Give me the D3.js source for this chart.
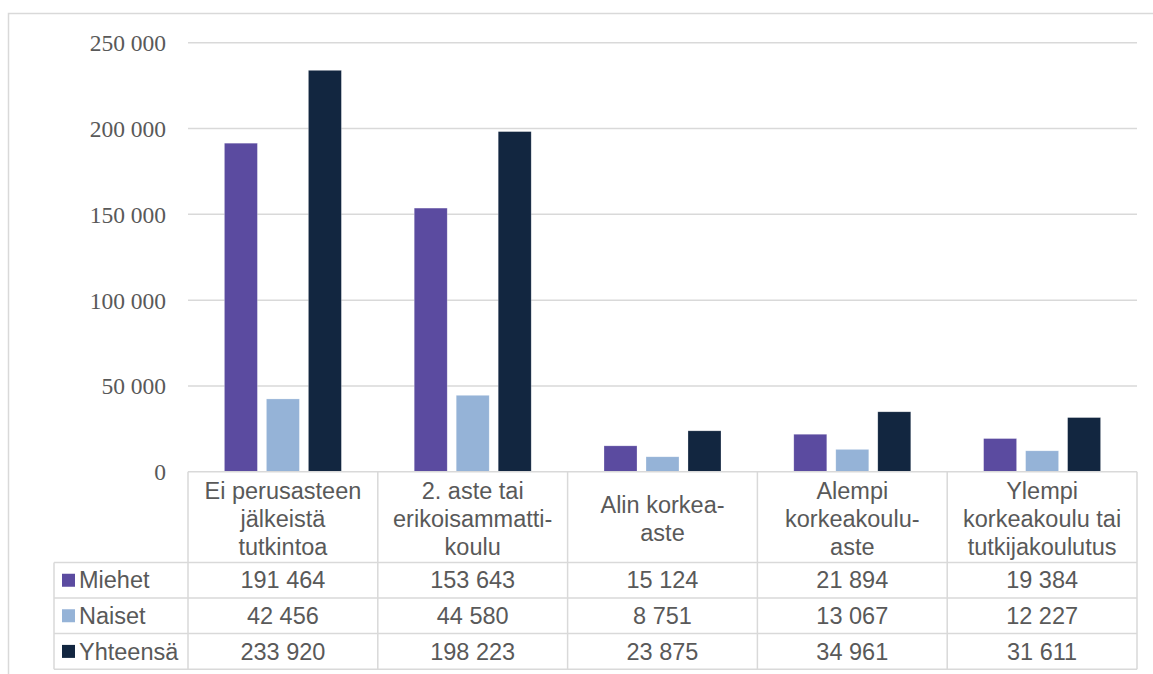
<!DOCTYPE html>
<html>
<head>
<meta charset="utf-8">
<script src="https://cdn.jsdelivr.net/npm/d3@7"></script>
<style>
  html, body { margin: 0; padding: 0; background: #fff; }
  svg { display: block; }
</style>
</head>
<body>
<svg id="chart" width="1153" height="674"></svg>
<script>
const categories = [
  ["Ei perusasteen", "jälkeistä", "tutkintoa"],
  ["2. aste tai", "erikoisammatti-", "koulu"],
  ["Alin korkea-", "aste"],
  ["Alempi", "korkeakoulu-", "aste"],
  ["Ylempi", "korkeakoulu tai", "tutkijakoulutus"]
];
const seriesNames = ["Miehet", "Naiset", "Yhteensä"];
const miehet = [191464, 153643, 15124, 21894, 19384];
const naiset = [42456, 44580, 8751, 13067, 12227];
const yhteensa = [233920, 198223, 23875, 34961, 31611];
const seriesColors = ["#5B4BA0", "#95B3D7", "#122640"];
const yTicks = [0, 50000, 100000, 150000, 200000, 250000];

const seriesValues = [miehet, naiset, yhteensa];
const catKeys = categories.map((c, i) => i);

const svg = d3.select("#chart");
const textColor = "#595959";
const lineColor = "#d9d9d9";
const fmt = v => d3.format(",")(v).replace(/,/g, " ");

const plotLeft = 188, plotRight = 1137, plotTop = 42.7, plotBottom = 471.8;
const tableLeft = 54;
const rowEdges = [471.8, 562.5, 598, 633.5, 669.3];

// outer frame
svg.append("rect")
  .attr("x", 8.5).attr("y", 13.5)
  .attr("width", 1160).attr("height", 700)
  .attr("fill", "none").attr("stroke", lineColor).attr("stroke-width", 1.5);

const x0 = d3.scaleBand().domain(catKeys).range([plotLeft, plotRight]).padding(0);
const groupW = 117;
const x1 = d3.scaleBand().domain(seriesNames)
  .range([(x0.bandwidth() - groupW) / 2, (x0.bandwidth() + groupW) / 2])
  .paddingInner(0.214).paddingOuter(0);
const y = d3.scaleLinear().domain([0, 250000]).range([plotBottom, plotTop]);

// gridlines
svg.append("g").selectAll("line").data(yTicks.filter(t => t > 0)).join("line")
  .attr("x1", plotLeft).attr("x2", plotRight)
  .attr("y1", d => y(d)).attr("y2", d => y(d))
  .attr("stroke", lineColor).attr("stroke-width", 1.5);

// y axis labels
const yAxis = d3.axisLeft(y).tickValues(yTicks).tickFormat(fmt).tickSize(0).tickPadding(0);
const yg = svg.append("g").attr("transform", `translate(166,0)`).call(yAxis);
yg.select(".domain").remove();
yg.selectAll("text")
  .attr("fill", textColor)
  .style("font-family", "'Liberation Serif', 'Times New Roman', serif")
  .style("font-size", "23.5px")
  .attr("dy", "0.34em");

// bars
const groups = svg.append("g").selectAll("g").data(catKeys).join("g")
  .attr("transform", d => `translate(${x0(d)},0)`);
groups.selectAll("rect")
  .data(ci => seriesNames.map((s, si) => ({ s, si, v: seriesValues[si][ci] })))
  .join("rect")
  .attr("x", d => x1(d.s))
  .attr("width", x1.bandwidth())
  .attr("y", d => y(d.v))
  .attr("height", d => plotBottom - y(d.v))
  .attr("fill", d => seriesColors[d.si])
  .attr("stroke", "rgba(255,255,255,0.45)")
  .attr("stroke-width", 0.6);

// table lines
const tbl = svg.append("g").attr("stroke", lineColor).attr("stroke-width", 1.5);
// horizontal lines
tbl.append("line").attr("x1", plotLeft).attr("x2", plotRight)
  .attr("y1", rowEdges[0]).attr("y2", rowEdges[0]);
for (let i = 1; i < rowEdges.length; i++) {
  tbl.append("line").attr("x1", tableLeft).attr("x2", plotRight)
    .attr("y1", rowEdges[i]).attr("y2", rowEdges[i]);
}
// vertical lines
tbl.append("line").attr("x1", tableLeft).attr("x2", tableLeft)
  .attr("y1", rowEdges[1]).attr("y2", rowEdges[4]);
const vx = catKeys.map(k => x0(k)).concat([plotRight]);
vx.forEach(xv => {
  tbl.append("line").attr("x1", xv).attr("x2", xv)
    .attr("y1", rowEdges[0]).attr("y2", rowEdges[4]);
});

const sans = "'Liberation Sans', Arial, sans-serif";
const fs = "23.5px";
const lineH = 28.3;

// header category labels
const hc = (rowEdges[0] + rowEdges[1]) / 2 + 1.5;
catKeys.forEach(k => {
  const lines = categories[k];
  const cx = x0(k) + x0.bandwidth() / 2;
  svg.append("text")
    .attr("x", cx).attr("text-anchor", "middle")
    .attr("fill", textColor).style("font-family", sans).style("font-size", fs)
    .selectAll("tspan").data(lines).join("tspan")
    .attr("x", cx)
    .attr("y", (d, i) => hc + (i - (lines.length - 1) / 2) * lineH)
    .attr("dy", "0.35em")
    .text(d => d);
});

// data rows
seriesNames.forEach((s, si) => {
  const cy = (rowEdges[si + 1] + rowEdges[si + 2]) / 2;
  svg.append("rect").attr("x", 62).attr("y", cy - 6.5).attr("width", 13).attr("height", 13)
    .attr("fill", seriesColors[si]);
  svg.append("text").attr("x", 79).attr("y", cy).attr("dy", "0.35em")
    .attr("fill", textColor).style("font-family", sans).style("font-size", fs)
    .text(s);
  catKeys.forEach(k => {
    svg.append("text")
      .attr("x", x0(k) + x0.bandwidth() / 2).attr("y", cy).attr("dy", "0.35em")
      .attr("text-anchor", "middle")
      .attr("fill", textColor).style("font-family", sans).style("font-size", fs)
      .text(fmt(seriesValues[si][k]));
  });
});
</script>
</body>
</html>
